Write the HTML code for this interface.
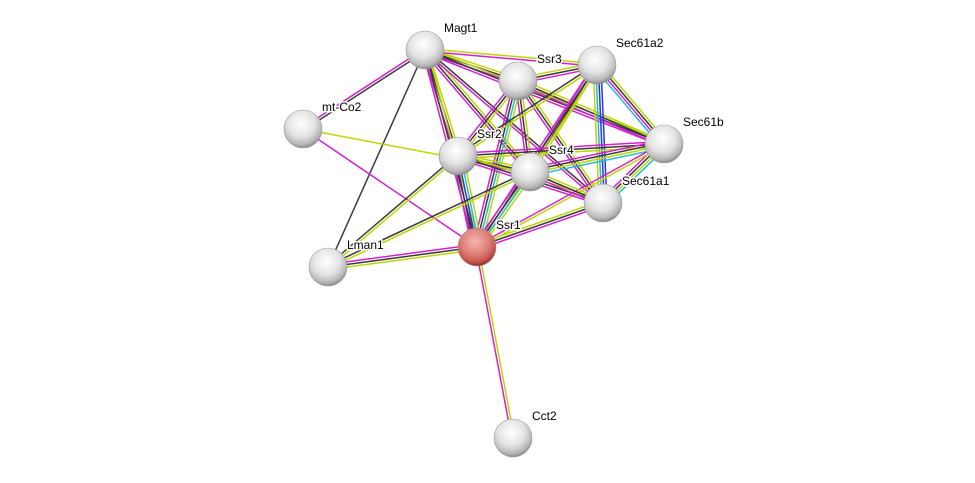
<!DOCTYPE html>
<html><head><meta charset="utf-8">
<style>
html,body{margin:0;padding:0;background:#fff;}
svg{display:block;}
text{font-family:"Liberation Sans",sans-serif;font-size:12px;fill:#000;paint-order:stroke;stroke:#fff;stroke-width:3px;stroke-linejoin:round;}
</style></head>
<body>
<svg id="s" width="975" height="483" xmlns="http://www.w3.org/2000/svg">
<defs>
<radialGradient id="g" cx="0.45" cy="0.35" r="0.65">
<stop offset="0" stop-color="#ffffff"/>
<stop offset="0.55" stop-color="#e3e3e3"/>
<stop offset="0.85" stop-color="#b8b8b8"/>
<stop offset="1" stop-color="#8a8a8a"/>
</radialGradient>
<radialGradient id="r" cx="0.45" cy="0.35" r="0.65">
<stop offset="0" stop-color="#f5b5b0"/>
<stop offset="0.55" stop-color="#e07f78"/>
<stop offset="0.85" stop-color="#c4524b"/>
<stop offset="1" stop-color="#8e2f2a"/>
</radialGradient>
</defs>
<g id="edges"></g>
<g id="nodes"></g>
</svg>
<script>
var N={
Magt1:[425,50],Ssr3:[518,81],Sec61a2:[597,65],"mt-Co2":[303,129],Sec61b:[664,144],
Ssr2:[458,156],Ssr4:[530,172],Sec61a1:[603,203],Ssr1:[477,247],Lman1:[328,267],Cct2:[513,438]};
var C={Y:"#bcd600",K:"#3a3a3a",M:"#d51fd5",B:"#2838e8",C:"#22b8e0"};
var E=[
["Magt1","mt-Co2","KM"],["Magt1","Lman1","K"],["Magt1","Ssr3","YKM"],["Magt1","Sec61a2","YM"],
["Magt1","Ssr2","YKM"],["Magt1","Ssr4","YKM"],["Magt1","Ssr1","YKM"],["Magt1","Sec61a1","KM"],
["Magt1","Sec61b","YKM"],["mt-Co2","Ssr1","M"],["mt-Co2","Ssr4","Y"],
["Ssr3","Sec61a2","YKM"],["Ssr3","Sec61b","YKM"],["Ssr3","Ssr2","YKM"],["Ssr3","Ssr4","YKM"],
["Ssr3","Ssr1","YCKM"],["Ssr3","Sec61a1","YKM"],["Sec61a2","Sec61b","YKMC"],
["Sec61a2","Sec61a1","BBCY"],["Sec61a2","Ssr2","YK"],["Sec61a2","Ssr4","YKM"],["Sec61a2","Ssr1","YKM"],
["Sec61b","Sec61a1","CYKM"],["Sec61b","Ssr2","YKM"],["Sec61b","Ssr4","CYKM"],["Sec61b","Ssr1","YM"],
["Ssr2","Ssr4","YKM"],["Ssr2","Ssr1","YCBKM"],["Ssr2","Sec61a1","YKM"],["Ssr2","Lman1","YK"],
["Ssr4","Ssr1","YCKM"],["Ssr4","Sec61a1","YKM"],["Ssr4","Lman1","YK"],
["Ssr1","Sec61a1","YKM"],["Ssr1","Lman1","YKM"],["Ssr1","Cct2","YM"]];
var ns="http://www.w3.org/2000/svg",ge=document.getElementById("edges"),gn=document.getElementById("nodes");
E.forEach(function(e){
 var a=N[e[0]],b=N[e[1]],dx=b[0]-a[0],dy=b[1]-a[1],L=Math.hypot(dx,dy),px=-dy/L,py=dx/L,n=e[2].length;
 for(var i=0;i<n;i++){var o=(i-(n-1)/2)*2.6;
  var l=document.createElementNS(ns,"line");
  l.setAttribute("x1",a[0]+px*o);l.setAttribute("y1",a[1]+py*o);
  l.setAttribute("x2",b[0]+px*o);l.setAttribute("y2",b[1]+py*o);
  l.setAttribute("stroke",C[e[2][i]]);l.setAttribute("stroke-width","1.5");ge.appendChild(l);}
});
for(var k in N){var p=N[k];
 var c=document.createElementNS(ns,"circle");
 c.setAttribute("cx",p[0]);c.setAttribute("cy",p[1]);c.setAttribute("r",19);
 c.setAttribute("fill",k=="Ssr1"?"url(#r)":"url(#g)");c.setAttribute("stroke","#999");c.setAttribute("stroke-width","0.6");
 gn.appendChild(c);}
for(var k in N){var p=N[k];
 var t=document.createElementNS(ns,"text");t.setAttribute("x",p[0]+19);t.setAttribute("y",p[1]-18);
 t.textContent=k;gn.appendChild(t);}
</script>
</body></html>
